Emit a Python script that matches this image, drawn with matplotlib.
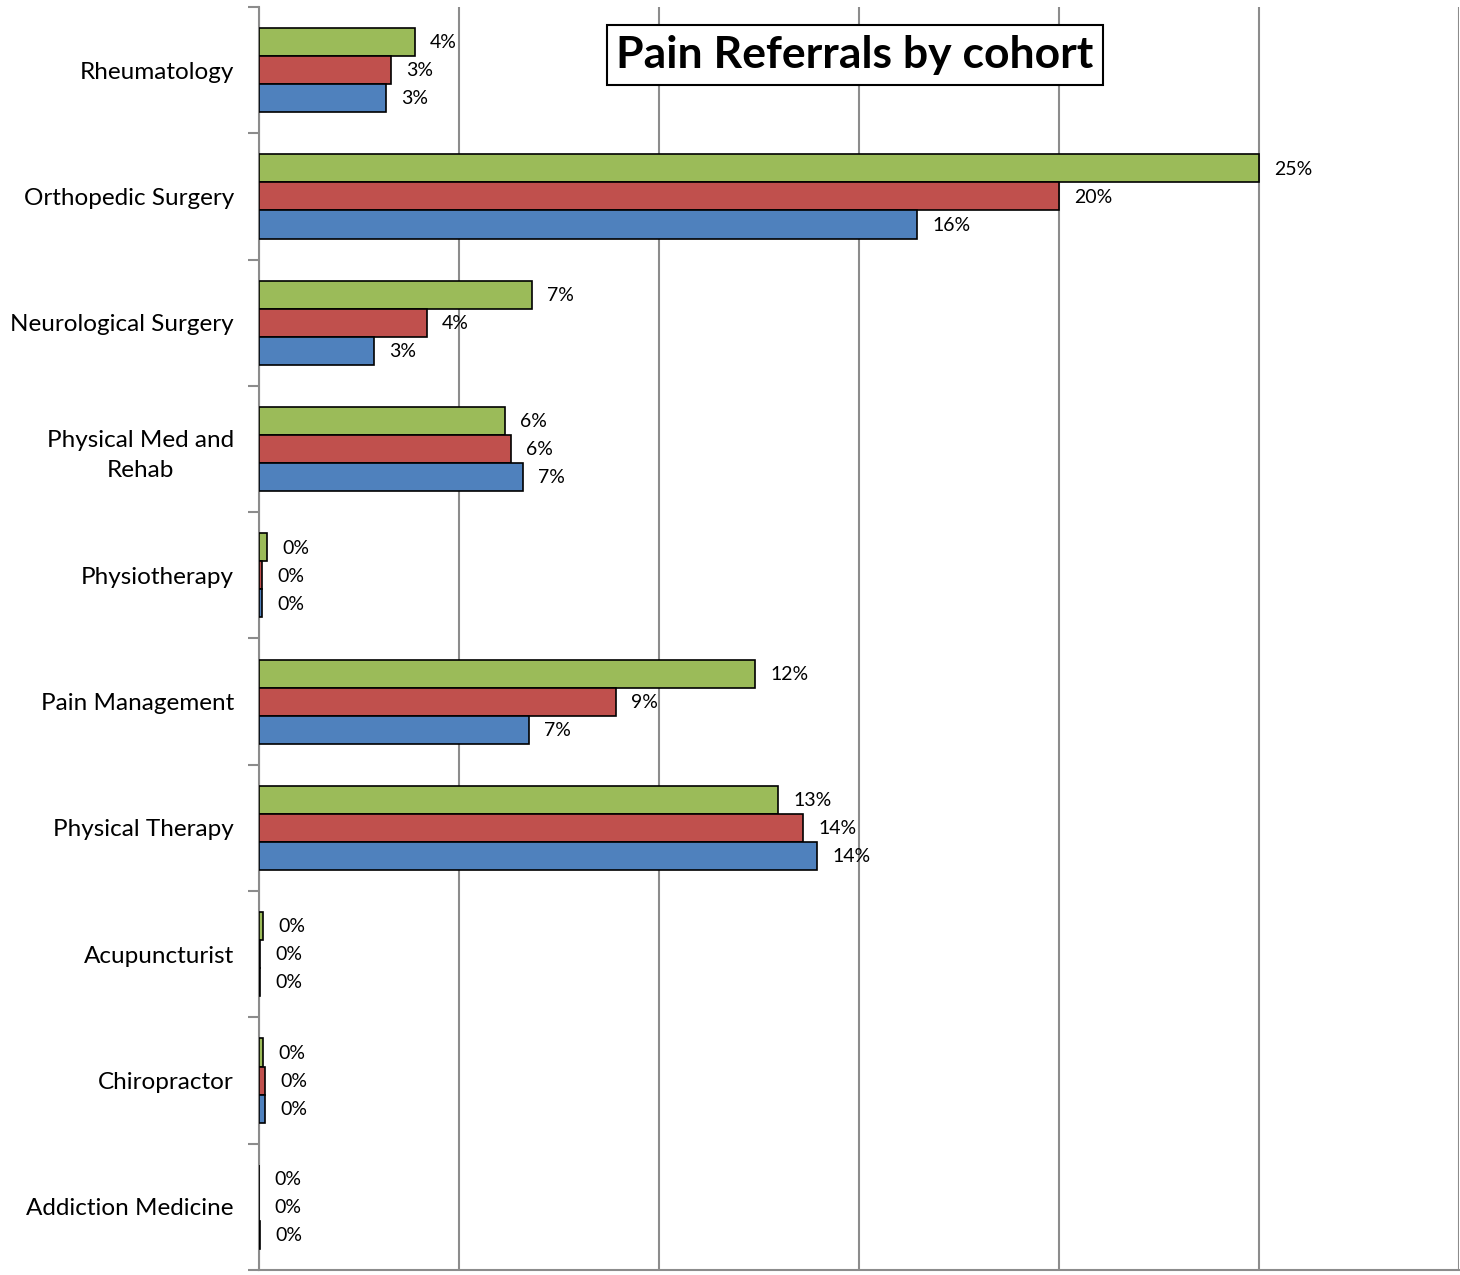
import numpy as np
import matplotlib
matplotlib.use("Agg")
import matplotlib.pyplot as plt
from matplotlib.ticker import MultipleLocator, FixedLocator

plt.rcParams['font.family'] = ['Lato', 'DejaVu Sans']

categories = ["Rheumatology", "Orthopedic Surgery", "Neurological Surgery",
              "Physical Med and\nRehab", "Physiotherapy", "Pain Management",
              "Physical Therapy", "Acupuncturist", "Chiropractor",
              "Addiction Medicine"]
# percent values
green = [3.9, 25.0, 6.83, 6.15, 0.2, 12.4, 12.98, 0.1, 0.1, 0.0]
red = [3.3, 20.0, 4.2, 6.3, 0.07, 8.93, 13.6, 0.03, 0.15, 0.0]
blue = [3.18, 16.45, 2.88, 6.6, 0.07, 6.75, 13.95, 0.02, 0.15, 0.02]

series = [(green, "#9BBB59", -1), (red, "#C0504D", 0), (blue, "#4F81BD", 1)]

fig = plt.figure(figsize=(14.6, 12.75), dpi=100)
ax = fig.add_axes([259 / 1460, 5 / 1275, 1200 / 1460, 1263 / 1275])

y = np.arange(len(categories))
h = 0.222
for vals, col, k in series:
    ax.barh(y + k * h, vals, height=h, color=col, edgecolor="black", linewidth=1.2, zorder=3)
    for yi, v in zip(y, vals):
        ax.annotate(f"{v:.0f}%", (v, yi + k * h), xytext=(11, -0.5), textcoords="offset points",
                    va="center", ha="left", fontsize=14, color="black")

ax.set_xlim(0, 30)
ax.set_ylim(len(categories) - 0.5, -0.5)
ax.xaxis.set_major_locator(MultipleLocator(5))
ax.grid(axis="x", color="#8c8c8c", linewidth=1.5, zorder=0)
ax.tick_params(axis="x", which="both", length=0, labelbottom=False)

ax.set_yticks(y)
ax.set_yticklabels(categories, fontsize=17.5, ha="right", multialignment="center",
                   linespacing=1.5)
ax.tick_params(axis="y", which="major", length=0, pad=18)
ax.yaxis.set_minor_locator(FixedLocator(np.arange(-0.5, len(categories), 1.0)))
ax.tick_params(axis="y", which="minor", length=8, width=1.5, color="#8c8c8c")

for s in ["top", "right"]:
    ax.spines[s].set_visible(False)
for s in ["left", "bottom"]:
    ax.spines[s].set_color("#8c8c8c")
    ax.spines[s].set_linewidth(1.5)

fig.text(855 / 1460, 1 - 55 / 1275, "Pain Referrals by cohort", fontsize=32, fontweight="bold",
         ha="center", va="center",
         bbox=dict(boxstyle="square,pad=0.22", facecolor="white", edgecolor="black", linewidth=1.5))

fig.savefig("out.png", dpi=100)
